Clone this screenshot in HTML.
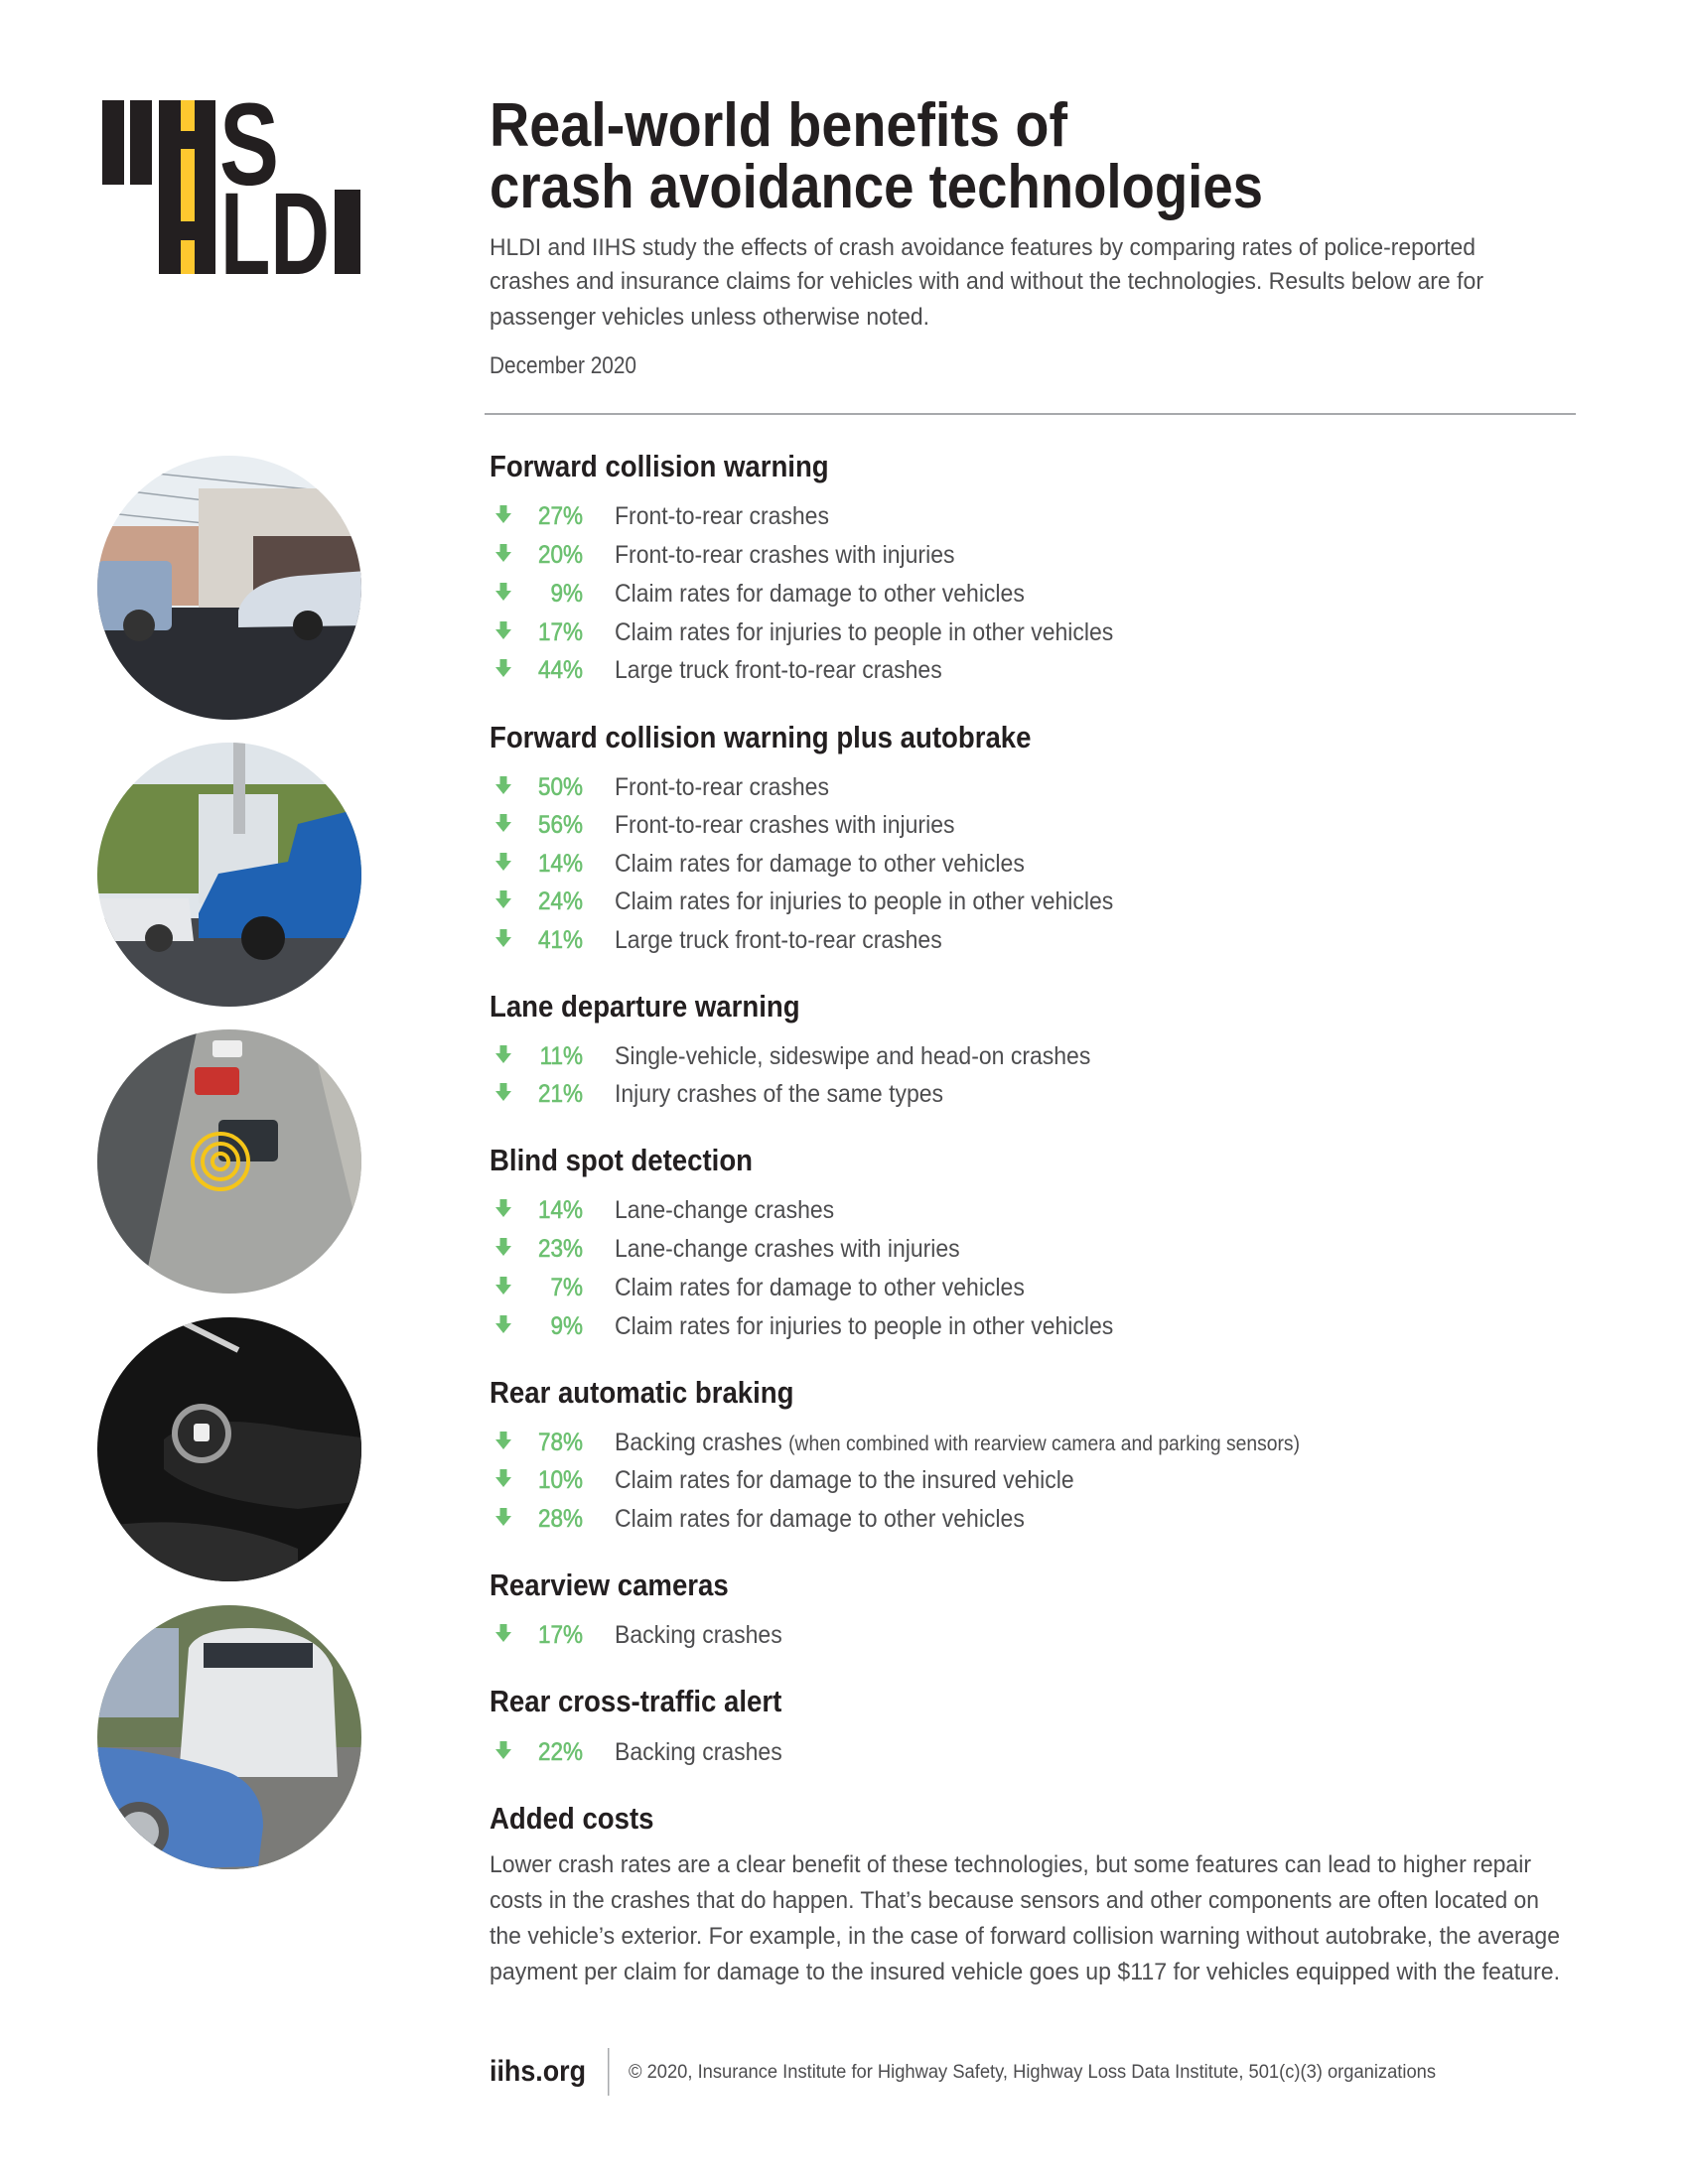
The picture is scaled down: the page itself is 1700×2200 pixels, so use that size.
<!DOCTYPE html>
<html><head><meta charset="utf-8"><style>
html,body{margin:0;padding:0;background:#fff}
svg{display:block}
text{font-family:"Liberation Sans",sans-serif}
.h{font-weight:bold;font-size:31px;fill:#231f20}
.r{font-size:25px;fill:#4d4d4f}
.p{font-size:25px;fill:#6cc070;stroke:#6cc070;stroke-width:0.6;text-anchor:end}
.b{font-size:24px;fill:#4d4d4f}
</style></head><body>
<svg width="1700" height="2200" viewBox="0 0 1700 2200" xmlns="http://www.w3.org/2000/svg">
<defs>
<g id="ar"><rect x="-3.5" y="-10" width="7" height="9" fill="#6cc070"/><polygon points="-8,-2 8,-2 0,8" fill="#6cc070"/></g>
<clipPath id="c1"><circle cx="231" cy="592" r="133"/></clipPath>
<clipPath id="c2"><circle cx="231" cy="881" r="133"/></clipPath>
<clipPath id="c3"><circle cx="231" cy="1170" r="133"/></clipPath>
<clipPath id="c4"><circle cx="231" cy="1460" r="133"/></clipPath>
<clipPath id="c5"><circle cx="231" cy="1750" r="133"/></clipPath>
</defs>

<!-- logo -->
<rect x="103" y="101" width="22" height="85" fill="#231f20"/>
<rect x="131" y="101" width="22" height="85" fill="#231f20"/>
<rect x="160" y="101" width="57" height="175" fill="#231f20"/>
<rect x="182" y="101" width="14" height="31" fill="#fdc82f"/>
<rect x="182" y="150" width="14" height="73" fill="#fdc82f"/>
<rect x="182" y="242" width="14" height="34" fill="#fdc82f"/>
<text x="221" y="186" font-size="118" font-weight="bold" fill="#231f20" textLength="60" lengthAdjust="spacingAndGlyphs">S</text>
<text x="222" y="276" font-size="118" font-weight="bold" fill="#231f20" textLength="110" lengthAdjust="spacingAndGlyphs">LD</text>
<rect x="337" y="191" width="26" height="85" fill="#231f20"/>

<!-- title -->
<text x="493" y="147" font-size="62" font-weight="bold" fill="#231f20" textLength="582" lengthAdjust="spacingAndGlyphs">Real-world benefits of</text>
<text x="493" y="209" font-size="62" font-weight="bold" fill="#231f20" textLength="779" lengthAdjust="spacingAndGlyphs">crash avoidance technologies</text>
<text class="b" x="493" y="257" textLength="993" lengthAdjust="spacingAndGlyphs">HLDI and IIHS study the effects of crash avoidance features by comparing rates of police-reported</text>
<text class="b" x="493" y="291" textLength="1001" lengthAdjust="spacingAndGlyphs">crashes and insurance claims for vehicles with and without the technologies. Results below are for</text>
<text class="b" x="493" y="327" textLength="443" lengthAdjust="spacingAndGlyphs">passenger vehicles unless otherwise noted.</text>
<text class="b" x="493" y="376" font-size="22" textLength="148" lengthAdjust="spacingAndGlyphs">December 2020</text>
<rect x="488" y="416" width="1099" height="2" fill="#a7a9ac"/>

<!-- sections -->
<g>
<text class="h" transform="translate(493,480) scale(.89,1)">Forward collision warning</text>
<text class="h" transform="translate(493,753) scale(.89,1)">Forward collision warning plus autobrake</text>
<text class="h" transform="translate(493,1024) scale(.89,1)">Lane departure warning</text>
<text class="h" transform="translate(493,1179) scale(.89,1)">Blind spot detection</text>
<text class="h" transform="translate(493,1413) scale(.89,1)">Rear automatic braking</text>
<text class="h" transform="translate(493,1607) scale(.89,1)">Rearview cameras</text>
<text class="h" transform="translate(493,1724) scale(.89,1)">Rear cross-traffic alert</text>
<text class="h" transform="translate(493,1842) scale(.89,1)">Added costs</text>
</g>

<g>
<use href="#ar" x="507" y="519"/><text class="p" transform="translate(587,528) scale(.9,1)">27%</text><text class="r" transform="translate(619,528) scale(.92,1)">Front-to-rear crashes</text>
<use href="#ar" x="507" y="558"/><text class="p" transform="translate(587,567) scale(.9,1)">20%</text><text class="r" transform="translate(619,567) scale(.92,1)">Front-to-rear crashes with injuries</text>
<use href="#ar" x="507" y="597"/><text class="p" transform="translate(587,606) scale(.9,1)">9%</text><text class="r" transform="translate(619,606) scale(.92,1)">Claim rates for damage to other vehicles</text>
<use href="#ar" x="507" y="636"/><text class="p" transform="translate(587,645) scale(.9,1)">17%</text><text class="r" transform="translate(619,645) scale(.92,1)">Claim rates for injuries to people in other vehicles</text>
<use href="#ar" x="507" y="674"/><text class="p" transform="translate(587,683) scale(.9,1)">44%</text><text class="r" transform="translate(619,683) scale(.92,1)">Large truck front-to-rear crashes</text>

<use href="#ar" x="507" y="792"/><text class="p" transform="translate(587,801) scale(.9,1)">50%</text><text class="r" transform="translate(619,801) scale(.92,1)">Front-to-rear crashes</text>
<use href="#ar" x="507" y="830"/><text class="p" transform="translate(587,839) scale(.9,1)">56%</text><text class="r" transform="translate(619,839) scale(.92,1)">Front-to-rear crashes with injuries</text>
<use href="#ar" x="507" y="869"/><text class="p" transform="translate(587,878) scale(.9,1)">14%</text><text class="r" transform="translate(619,878) scale(.92,1)">Claim rates for damage to other vehicles</text>
<use href="#ar" x="507" y="907"/><text class="p" transform="translate(587,916) scale(.9,1)">24%</text><text class="r" transform="translate(619,916) scale(.92,1)">Claim rates for injuries to people in other vehicles</text>
<use href="#ar" x="507" y="946"/><text class="p" transform="translate(587,955) scale(.9,1)">41%</text><text class="r" transform="translate(619,955) scale(.92,1)">Large truck front-to-rear crashes</text>

<use href="#ar" x="507" y="1063"/><text class="p" transform="translate(587,1072) scale(.9,1)">11%</text><text class="r" transform="translate(619,1072) scale(.92,1)">Single-vehicle, sideswipe and head-on crashes</text>
<use href="#ar" x="507" y="1101"/><text class="p" transform="translate(587,1110) scale(.9,1)">21%</text><text class="r" transform="translate(619,1110) scale(.92,1)">Injury crashes of the same types</text>

<use href="#ar" x="507" y="1218"/><text class="p" transform="translate(587,1227) scale(.9,1)">14%</text><text class="r" transform="translate(619,1227) scale(.92,1)">Lane-change crashes</text>
<use href="#ar" x="507" y="1257"/><text class="p" transform="translate(587,1266) scale(.9,1)">23%</text><text class="r" transform="translate(619,1266) scale(.92,1)">Lane-change crashes with injuries</text>
<use href="#ar" x="507" y="1296"/><text class="p" transform="translate(587,1305) scale(.9,1)">7%</text><text class="r" transform="translate(619,1305) scale(.92,1)">Claim rates for damage to other vehicles</text>
<use href="#ar" x="507" y="1335"/><text class="p" transform="translate(587,1344) scale(.9,1)">9%</text><text class="r" transform="translate(619,1344) scale(.92,1)">Claim rates for injuries to people in other vehicles</text>

<use href="#ar" x="507" y="1452"/><text class="p" transform="translate(587,1461) scale(.9,1)">78%</text><text class="r" transform="translate(619,1461) scale(.92,1)">Backing crashes <tspan font-size="21">(when combined with rearview camera and parking sensors)</tspan></text>
<use href="#ar" x="507" y="1490"/><text class="p" transform="translate(587,1499) scale(.9,1)">10%</text><text class="r" transform="translate(619,1499) scale(.92,1)">Claim rates for damage to the insured vehicle</text>
<use href="#ar" x="507" y="1529"/><text class="p" transform="translate(587,1538) scale(.9,1)">28%</text><text class="r" transform="translate(619,1538) scale(.92,1)">Claim rates for damage to other vehicles</text>

<use href="#ar" x="507" y="1646"/><text class="p" transform="translate(587,1655) scale(.9,1)">17%</text><text class="r" transform="translate(619,1655) scale(.92,1)">Backing crashes</text>

<use href="#ar" x="507" y="1764"/><text class="p" transform="translate(587,1773) scale(.9,1)">22%</text><text class="r" transform="translate(619,1773) scale(.92,1)">Backing crashes</text>
</g>

<text class="b" x="493" y="1886" textLength="1049" lengthAdjust="spacingAndGlyphs">Lower crash rates are a clear benefit of these technologies, but some features can lead to higher repair</text>
<text class="b" x="493" y="1922" textLength="1057" lengthAdjust="spacingAndGlyphs">costs in the crashes that do happen. That’s because sensors and other components are often located on</text>
<text class="b" x="493" y="1958" textLength="1078" lengthAdjust="spacingAndGlyphs">the vehicle’s exterior. For example, in the case of forward collision warning without autobrake, the average</text>
<text class="b" x="493" y="1994" textLength="1078" lengthAdjust="spacingAndGlyphs">payment per claim for damage to the insured vehicle goes up $117 for vehicles equipped with the feature.</text>

<!-- footer -->
<text x="493" y="2096" font-size="30" font-weight="bold" fill="#231f20" textLength="97" lengthAdjust="spacingAndGlyphs">iihs.org</text>
<rect x="612" y="2063" width="1.5" height="48" fill="#a7a9ac"/>
<text x="633" y="2093" font-size="19" fill="#4d4d4f" textLength="813" lengthAdjust="spacingAndGlyphs">© 2020, Insurance Institute for Highway Safety, Highway Loss Data Institute, 501(c)(3) organizations</text>

<!-- circle 1 -->
<g clip-path="url(#c1)">
<rect x="90" y="450" width="290" height="290" fill="#e9eef2"/>
<path d="M90 470 L380 500 M90 490 L380 525 M90 515 L380 545 M90 540 L380 570" stroke="#9aa3ab" stroke-width="1.5"/>
<rect x="90" y="530" width="120" height="80" fill="#c9a08a"/>
<rect x="200" y="492" width="180" height="120" fill="#d8d3cc"/>
<rect x="255" y="540" width="125" height="65" fill="#5b4a45"/>
<rect x="90" y="612" width="290" height="130" fill="#2b2d33"/>
<rect x="98" y="565" width="75" height="70" rx="6" fill="#8fa5c2"/>
<circle cx="140" cy="630" r="16" fill="#333"/>
<path d="M240 615 Q250 585 300 580 L370 575 L370 630 L240 632 Z" fill="#d6dde6"/>
<circle cx="310" cy="630" r="15" fill="#222"/>
</g>
<!-- circle 2 -->
<g clip-path="url(#c2)">
<rect x="90" y="740" width="290" height="290" fill="#dfe5ea"/>
<rect x="90" y="790" width="290" height="110" fill="#6f8a45"/>
<rect x="200" y="800" width="80" height="110" fill="#dde2e6"/>
<rect x="235" y="740" width="12" height="100" fill="#b9bcbf"/>
<rect x="90" y="925" width="290" height="100" fill="#45484d"/>
<path d="M95 905 L190 905 L195 948 L95 948 Z" fill="#e6e8eb"/>
<circle cx="160" cy="945" r="14" fill="#333"/>
<path d="M200 920 L220 880 L290 868 L300 830 L380 810 L380 945 L200 945 Z" fill="#1f62b3"/>
<circle cx="265" cy="945" r="22" fill="#1c1c1c"/>
</g>
<!-- circle 3 -->
<g clip-path="url(#c3)">
<rect x="90" y="1030" width="290" height="290" fill="#a5a6a3"/>
<path d="M90 1030 L200 1030 L140 1320 L90 1320 Z" fill="#55585a"/>
<path d="M310 1030 L380 1030 L380 1320 Z" fill="#bdbcb6"/>
<rect x="214" y="1048" width="30" height="17" rx="3" fill="#eee"/>
<rect x="196" y="1075" width="45" height="28" rx="4" fill="#c9332e"/>
<rect x="220" y="1128" width="60" height="42" rx="5" fill="#2e3338"/>
<circle cx="222" cy="1170" r="28" fill="none" stroke="#f5c518" stroke-width="4"/>
<circle cx="222" cy="1170" r="18" fill="none" stroke="#f5c518" stroke-width="4"/>
<circle cx="222" cy="1170" r="8" fill="none" stroke="#f5c518" stroke-width="4"/>
</g>
<!-- circle 4 -->
<g clip-path="url(#c4)">
<rect x="90" y="1320" width="290" height="290" fill="#141414"/>
<path d="M180 1330 L240 1360" stroke="#d0d0d0" stroke-width="6"/>
<path d="M165 1450 Q200 1420 300 1440 L380 1450 L380 1510 L300 1520 Q200 1510 165 1480 Z" fill="#262626"/>
<path d="M90 1540 Q200 1520 300 1560 L300 1610 L90 1610 Z" fill="#2c2c2c"/>
<circle cx="203" cy="1444" r="30" fill="#9b9b9b"/>
<circle cx="203" cy="1444" r="24" fill="#2a2a2a"/>
<rect x="195" y="1434" width="16" height="18" rx="3" fill="#eee"/>
</g>
<!-- circle 5 -->
<g clip-path="url(#c5)">
<rect x="90" y="1610" width="290" height="290" fill="#6b7a56"/>
<rect x="90" y="1640" width="90" height="90" fill="#a2afc0"/>
<rect x="90" y="1760" width="290" height="140" fill="#7b7b78"/>
<path d="M190 1660 Q200 1640 250 1640 Q320 1640 335 1680 L340 1790 L180 1790 Z" fill="#e6e8ea"/>
<rect x="205" y="1655" width="110" height="25" fill="#30353c"/>
<path d="M90 1760 Q150 1760 230 1785 Q265 1800 265 1840 L260 1880 L90 1885 Z" fill="#4d7cc1"/>
<circle cx="140" cy="1845" r="30" fill="#555"/>
<circle cx="140" cy="1845" r="20" fill="#b8bcc0"/>
</g>
</svg>
</body></html>
